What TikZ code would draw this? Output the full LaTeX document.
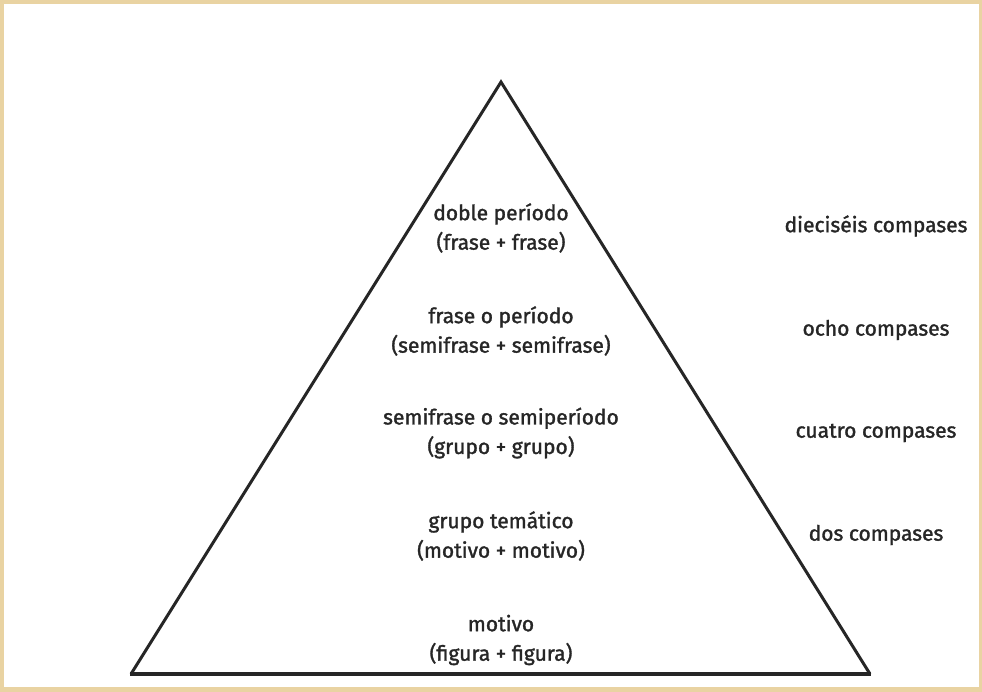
\documentclass[tikz,border=0pt]{standalone}
\usepackage{fontspec}
\setmainfont{Fira Sans}[FakeBold=1.5]
\definecolor{frame}{HTML}{E9D3A2}
\definecolor{ink}{HTML}{262626}
\begin{document}
\begin{tikzpicture}[x=1pt,y=-1pt,
  lvl/.style={font=\fontsize{21}{29.5}\selectfont, text=ink, align=center, inner sep=0pt},
  cmp/.style={font=\fontsize{21}{24}\selectfont, text=ink, inner sep=0pt}]
\useasboundingbox (0,0) rectangle (982,692);
\fill[frame] (0,0) rectangle (982,692);
\fill[white] (4,4) rectangle (979,687);
\coordinate (apex) at (501,82);
\coordinate (bl) at (131,674);
\coordinate (br) at (870,674);
\draw[line width=3pt, ink, line join=miter] (bl) -- (apex) -- (br);
\draw[line width=4pt, ink] ([xshift=-1pt]bl) -- ([xshift=1pt]br);
\node[lvl] (l1) at (501,228) {doble período\\(frase + frase)};
\node[lvl] (l2) at (501,331) {frase o período\\(semifrase + semifrase)};
\node[lvl] (l3) at (501,433) {semifrase o semiperíodo\\(grupo + grupo)};
\node[lvl] (l4) at (501,536) {grupo temático\\(motivo + motivo)};
\node[lvl] (l5) at (501,640) {motivo\\(figura + figura)};
\node[cmp] (c1) at (876,226) {dieciséis compases};
\node[cmp] (c2) at (876,330) {ocho compases};
\node[cmp] (c3) at (876,433) {cuatro compases};
\node[cmp] (c4) at (876,535) {dos compases};
\end{tikzpicture}
\end{document}
